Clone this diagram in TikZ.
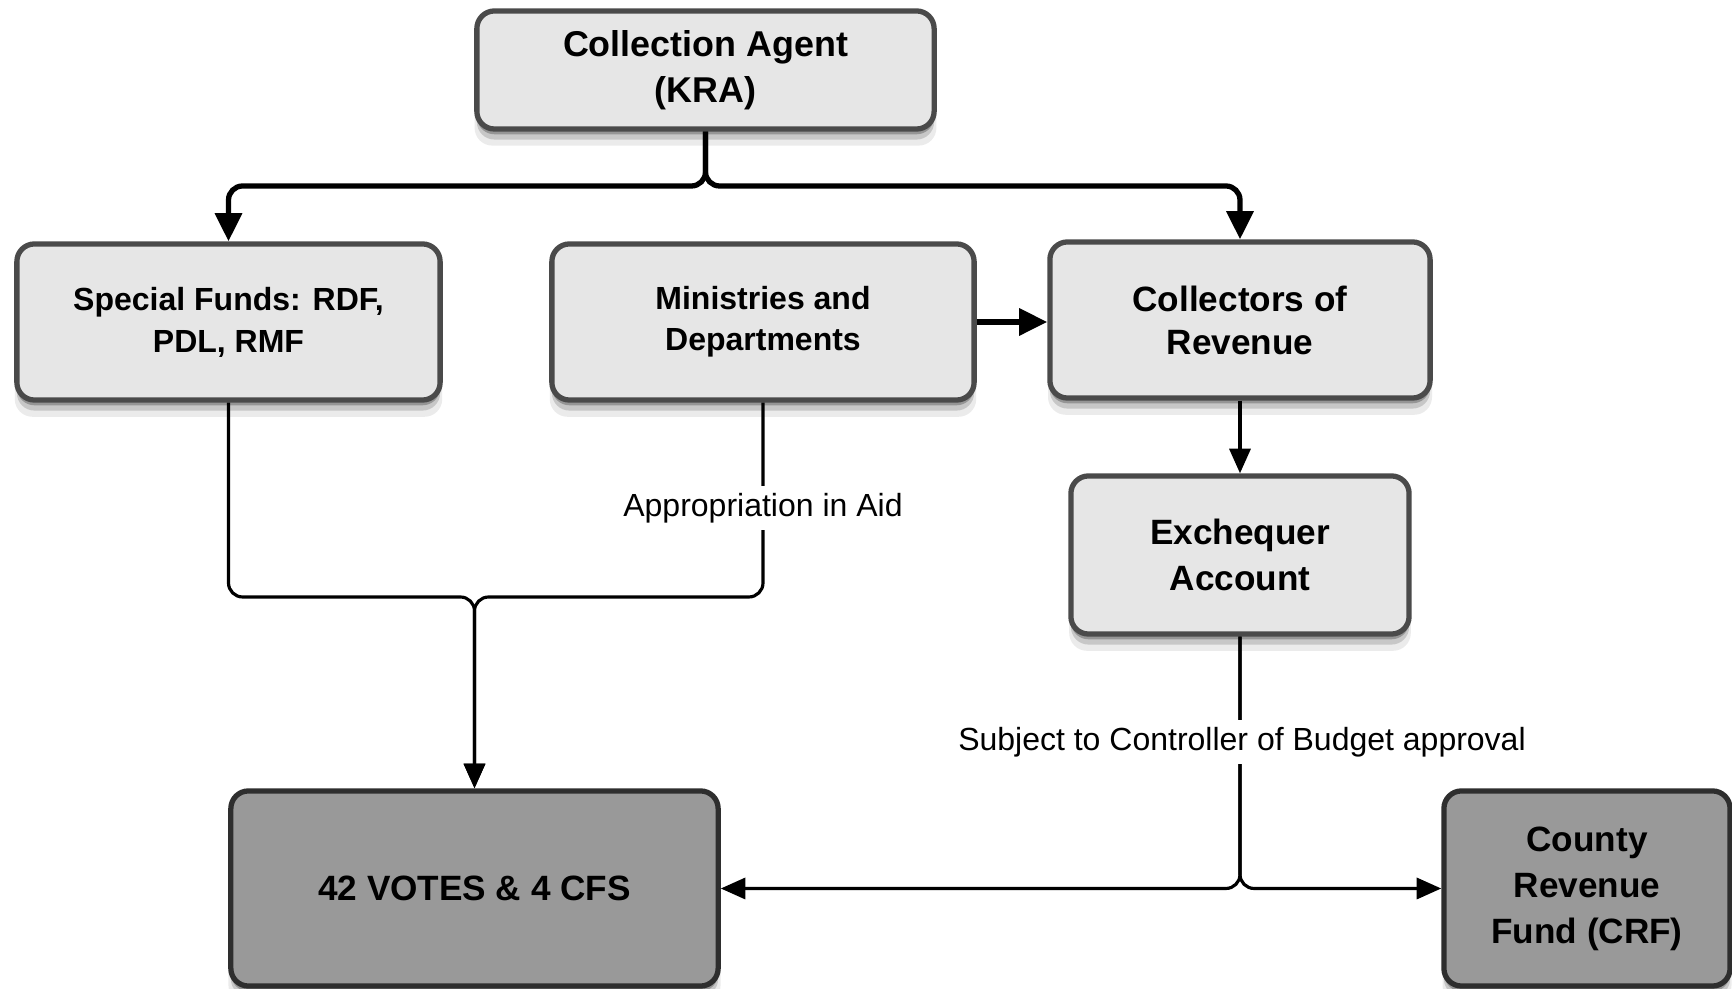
\documentclass[tikz,border=0pt]{standalone}
\usepackage{fontspec}
\setmainfont{Liberation Sans}
\usetikzlibrary{arrows.meta,shadows}
\definecolor{boxfill}{HTML}{E6E6E6}
\definecolor{boxline}{HTML}{4A4A4A}
\definecolor{darkfill}{HTML}{999999}
\definecolor{darkline}{HTML}{2E2E2E}
\tikzset{
  softshadow/.style={
    drop shadow={shadow xshift=0pt, shadow yshift=-4.5pt, shadow scale=1.01, opacity=0.08, fill=black},
    drop shadow={shadow xshift=0pt, shadow yshift=-3pt, opacity=0.15, fill=black},
    drop shadow={shadow xshift=0pt, shadow yshift=-1.5pt, opacity=0.25, fill=black}},
  lightbox/.style={draw=boxline, fill=boxfill, line width=1.5pt, rounded corners=5pt,
    softshadow, align=center, font=\bfseries, inner sep=0pt},
  darkbox/.style={lightbox, draw=darkline, fill=darkfill},
  bigarrow/.style={line width=1.5pt, rounded corners=4pt, -{Triangle[length=8pt,width=7.5pt]}},
  smallarrow/.style={line width=0.9pt, rounded corners=4pt, -{Triangle[length=7pt,width=6pt]}},
  lbl/.style={fill=white, inner sep=2pt, font=\fontsize{9.1}{11}\selectfont}
}
\begin{document}
\begin{tikzpicture}[x=0.01cm,y=-0.01cm]
\useasboundingbox (0,0) rectangle (1732,989);
\fill[white] (0,0) rectangle (1732,989);

\node[lightbox, minimum width=4.57cm, minimum height=1.18cm, font=\bfseries\fontsize{10.2}{13}\selectfont]
  (kra) at (705.5,70) {Collection Agent\\(KRA)};
\node[lightbox, minimum width=4.23cm, minimum height=1.56cm, font=\bfseries\fontsize{9.1}{11.9}\selectfont]
  (sf) at (228.5,322) {Special Funds: RDF,\\PDL, RMF};
\node[lightbox, minimum width=4.22cm, minimum height=1.56cm, font=\bfseries\fontsize{9.1}{11.7}\selectfont]
  (min) at (763,322) {Ministries and\\Departments};
\node[lightbox, minimum width=3.80cm, minimum height=1.56cm, font=\bfseries\fontsize{10}{12.2}\selectfont]
  (col) at (1240,320) {Collectors of\\Revenue};
\node[lightbox, minimum width=3.38cm, minimum height=1.58cm, font=\bfseries\fontsize{10}{13.2}\selectfont]
  (exc) at (1240,555) {Exchequer\\Account};
\node[darkbox, minimum width=4.87cm, minimum height=1.95cm, font=\bfseries\fontsize{10}{13}\selectfont]
  (votes) at (474.5,888.5) {42 VOTES \& 4 CFS};
\node[darkbox, minimum width=2.86cm, minimum height=1.95cm, font=\bfseries\fontsize{10}{13.1}\selectfont]
  (crf) at (1587,888.5) {County\\Revenue\\Fund (CRF)};

\coordinate (k1) at (kra.south |- 0,186);
\coordinate (m1) at (votes.north |- 0,597);
\coordinate (s1) at (exc.south |- votes.east);

\draw[bigarrow] (kra.south) -- (k1) -| (sf.north);
\draw[bigarrow] (kra.south) -- (k1) -| (col.north);
\draw[bigarrow] (min.east) -- (min.east -| col.west);
\draw[smallarrow] (sf.south) |- (m1) -- (votes.north);
\draw[smallarrow] (min.south) |- (m1) -- (votes.north);
\draw[smallarrow] (col.south) -- (exc.north);
\draw[smallarrow] (exc.south) -- (s1) -- (votes.east);
\draw[smallarrow] (exc.south) -- (s1) -- (crf.west);

\node[lbl] (app) at (763,508) {Appropriation in Aid};
\node[lbl] (cob) at (1242,742) {Subject to Controller of Budget approval};
\end{tikzpicture}
\end{document}
